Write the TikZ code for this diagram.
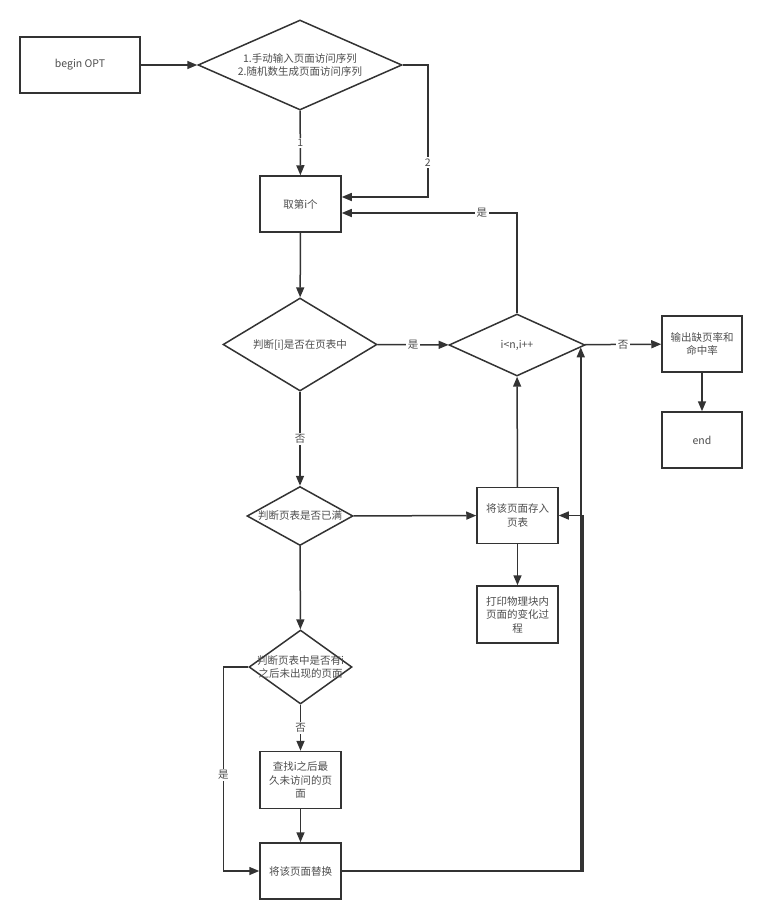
\documentclass[tikz,border=0pt]{standalone}
\usepackage{fontspec}
\setmainfont{Noto Sans CJK SC}
\usetikzlibrary{shapes.geometric,arrows.meta}
\definecolor{linegray}{HTML}{333333}
\definecolor{textgray}{HTML}{4D4D4D}
\tikzset{
  txt/.style={text=textgray,align=center,inner sep=0pt,font=\fontsize{10.5}{13.5}\selectfont},
  box/.style={txt,draw=linegray,line width=1.5pt,minimum width=81pt,minimum height=56pt},
  dia/.style={diamond,draw=linegray,line width=1.5pt,inner sep=0pt},
  lbl/.style={txt,fill=white,inner sep=1.5pt},
  flow/.style={draw=linegray,line width=1.5pt,->}
}
\begin{document}
\begin{tikzpicture}[x=1pt,y=-1pt,>={Triangle[length=10pt,width=8pt]}]
\useasboundingbox (0,0) rectangle (762,919);
\node[box,minimum width=120pt] (start) at (80,65) {begin OPT};
\node[dia,minimum width=204pt,minimum height=90pt,label={[txt]center:{1.手动输入页面访问序列\\2.随机数生成页面访问序列}}] (q1) at (300,65) {};
\node[box] (take) at (300.5,204) {取第i个};
\node[dia,minimum width=154pt,minimum height=93pt,label={[txt]center:{判断[i]是否在页表中}}] (q2) at (300,344.5) {};
\node[dia,minimum width=136pt,minimum height=62pt,label={[txt]center:{i<n,i++}}] (loop) at (517,345) {};
\node[box,minimum width=80pt] (out) at (702,344) {输出缺页率和\\命中率};
\node[box,minimum width=80pt] (endn) at (702,440) {end};
\node[dia,minimum width=106pt,minimum height=59pt,label={[txt]center:{判断页表是否已满}}] (q3) at (300,516) {};
\node[box] (store) at (517.5,515.5) {将该页面存入\\页表};
\node[box,minimum height=57pt] (print) at (517.5,614.5) {打印物理块内\\页面的变化过\\程};
\node[dia,minimum width=103pt,minimum height=74pt,label={[txt]center:{判断页表中是否有i\\之后未出现的页面}}] (q4) at (300.5,667) {};
\node[box,minimum height=57pt] (find) at (300.5,780) {查找i之后最\\久未访问的页\\面};
\node[box] (repl) at (300.5,871) {将该页面替换};

\draw[flow] (start) -- (q1);
\draw[flow] (q1) -- node[lbl]{1} (take);
\draw[flow] (q1.east) -- ++(25,0) |- node[lbl,pos=0.37]{2} ([yshift=7pt]take.east);
\draw[flow] (take) -- (q2);
\draw[flow] (q2) -- node[lbl]{是} (loop);
\draw[flow] (loop.north) |- node[lbl,pos=0.6]{是} ([yshift=-9pt]take.east);
\draw[flow] (loop) -- node[lbl]{否} (out);
\draw[flow] (out) -- (endn);
\draw[flow] (q2) -- node[lbl]{否} (q3);
\draw[flow] (q3) -- (store);
\draw[flow] (store) -- (loop);
\draw[flow] (store) -- (print);
\draw[flow] (q3) -- (q4);
\draw[flow] (q4) -- node[lbl]{否} (find);
\draw[flow] (find) -- (repl);
\draw[flow] (q4.west) -- ++(-25,0) |- node[lbl,pos=0.265]{是} (repl.west);
\draw[flow] (repl.east) -| ([xshift=24pt]store.east) -- (store.east);
\draw[flow] (repl.east) -| ([xshift=-5pt,yshift=-2.3pt]loop.east);
\end{tikzpicture}
\end{document}
